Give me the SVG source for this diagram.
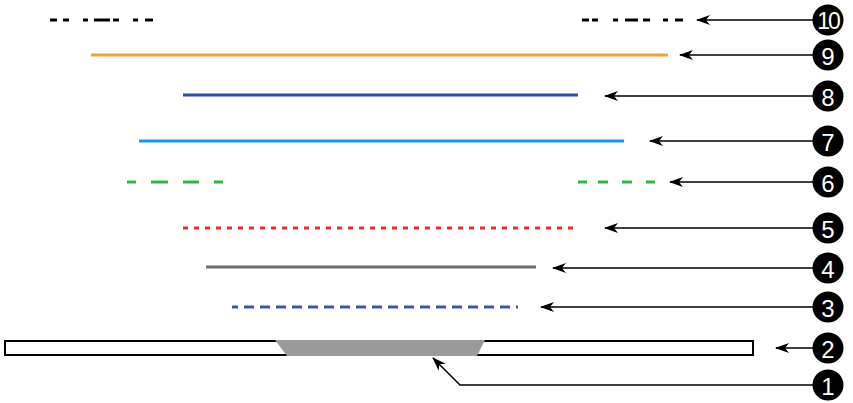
<svg xmlns="http://www.w3.org/2000/svg" width="853" height="403" viewBox="0 0 853 403">
<defs>
<marker id="ah" markerWidth="14" markerHeight="10" refX="13" refY="5" orient="auto" markerUnits="userSpaceOnUse">
<path d="M0,0 L14,5 L0,10 L4,5 Z" fill="#000"/>
</marker>
<style>
.lbl circle{fill:#000}
.lbl text{fill:#fff;font-family:"Liberation Sans",Arial,sans-serif;font-size:24px;text-anchor:middle;dominant-baseline:central}
.conn line,.conn polyline{stroke:#000;stroke-width:1.5;fill:none}
</style>
</defs>
<g id="line10" stroke="#000" stroke-width="3">
<path d="M50,20h7M63,20h6M83,20h5M94,20h16M113,20h6M133,20h5M145,20h8"/>
<path d="M582,20h7M592,20h6M613,20h5M625,20h13M643,20h7M663,20h5M675,20h8"/>
</g>
<g id="line9"><line x1="91" y1="55" x2="668" y2="55" stroke="#f7a030" stroke-width="3"/></g>
<g id="line8"><line x1="183" y1="95" x2="578" y2="95" stroke="#2e4fa0" stroke-width="3"/></g>
<g id="line7"><line x1="139" y1="141" x2="624" y2="141" stroke="#1a9ade" stroke-width="3"/></g>
<g id="line6" stroke="#2db84a" stroke-width="3">
<path d="M127,182h9M151,182h17M183,182h16M214,182h9"/>
<path d="M578,182h9M598,182h10M622,182h10M646,182h9"/>
</g>
<g id="line5"><line x1="183" y1="228" x2="578" y2="228" stroke="#ee2a2a" stroke-width="3" stroke-dasharray="5,6"/></g>
<g id="line4"><line x1="206" y1="267" x2="536" y2="267" stroke="#6e6e6e" stroke-width="3"/></g>
<g id="line3"><line x1="232" y1="307" x2="518" y2="307" stroke="#3a56a8" stroke-width="3" stroke-dasharray="10,6" stroke-dashoffset="4"/></g>
<g id="line2"><rect x="5" y="341" width="748" height="14" fill="#fff" stroke="#000" stroke-width="2"/></g>
<g id="line1"><polygon points="275,340 485,340 477,356 287,356" fill="#9b9b9b"/></g>
<g class="conn" id="connectors">
<line x1="814" y1="20" x2="697" y2="20" marker-end="url(#ah)"/>
<line x1="814" y1="55" x2="680" y2="55" marker-end="url(#ah)"/>
<line x1="814" y1="96" x2="605" y2="96" marker-end="url(#ah)"/>
<line x1="814" y1="141" x2="650" y2="141" marker-end="url(#ah)"/>
<line x1="814" y1="182" x2="670" y2="182" marker-end="url(#ah)"/>
<line x1="814" y1="228" x2="605" y2="228" marker-end="url(#ah)"/>
<line x1="814" y1="268" x2="553" y2="268" marker-end="url(#ah)"/>
<line x1="814" y1="307" x2="541" y2="307" marker-end="url(#ah)"/>
<line x1="814" y1="348" x2="776" y2="348" marker-end="url(#ah)"/>
<polyline points="814,385 460,385 433,358" marker-end="url(#ah)"/>
</g>
<g class="lbl" id="n10"><circle cx="828" cy="20" r="15.5"/><text x="828" y="21" style="letter-spacing:-2px;font-size:23px">10</text></g>
<g class="lbl" id="n9"><circle cx="828" cy="55" r="15.5"/><text x="828" y="56">9</text></g>
<g class="lbl" id="n8"><circle cx="828" cy="96" r="15.5"/><text x="828" y="97">8</text></g>
<g class="lbl" id="n7"><circle cx="828" cy="141" r="15.5"/><text x="828" y="142">7</text></g>
<g class="lbl" id="n6"><circle cx="828" cy="182" r="15.5"/><text x="828" y="183">6</text></g>
<g class="lbl" id="n5"><circle cx="828" cy="228" r="15.5"/><text x="828" y="229">5</text></g>
<g class="lbl" id="n4"><circle cx="828" cy="268" r="15.5"/><text x="828" y="269">4</text></g>
<g class="lbl" id="n3"><circle cx="828" cy="307" r="15.5"/><text x="828" y="308">3</text></g>
<g class="lbl" id="n2"><circle cx="828" cy="348" r="15.5"/><text x="828" y="349">2</text></g>
<g class="lbl" id="n1"><circle cx="828" cy="385" r="15.5"/><text x="828" y="386">1</text></g>
</svg>
